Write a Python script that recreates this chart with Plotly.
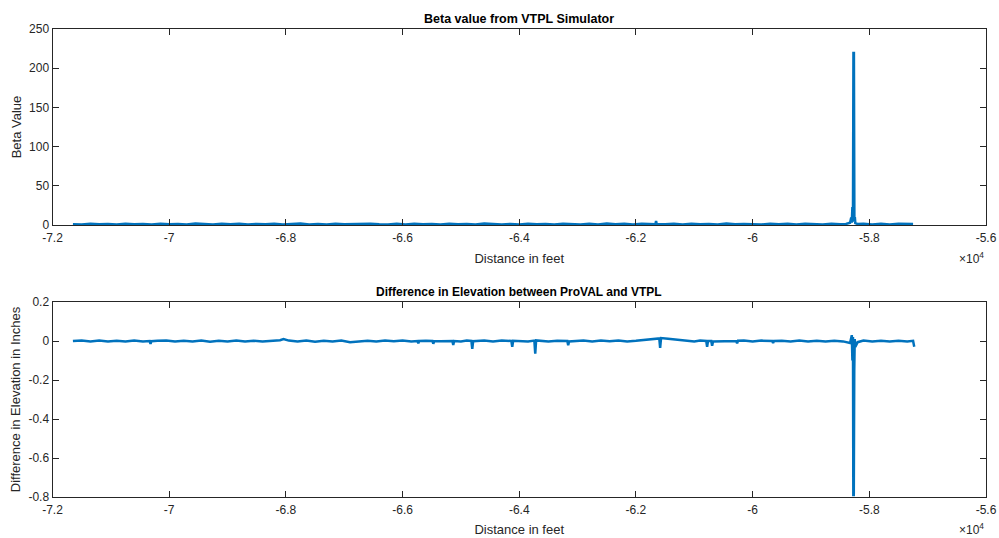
import plotly.graph_objects as go

# ---------------- data ----------------
beta_x = [-71650, -71500, -71350, -71200, -71050, -70900, -70750, -70600, -70450, -70300,
          -70150, -70000, -69850, -69700, -69550, -69400, -69250, -69100, -68950, -68800,
          -68650, -68500, -68350, -68200, -68050, -67900, -67750, -67600, -67450, -67300,
          -67150, -67000, -66850, -66700, -66550, -66400, -66250, -66100, -65950, -65800,
          -65650, -65500, -65350, -65200, -65050, -64900, -64750, -64600, -64450, -64300,
          -64150, -64000, -63850, -63700, -63550, -63400, -63250, -63100, -62950, -62800,
          -62650, -62500, -62350, -62200, -62050, -61900, -61750, -61665, -61655, -61645, -61500,
          -61350, -61200, -61050, -60900, -60750, -60600, -60450, -60300, -60150, -60000,
          -59850, -59700, -59550, -59400, -59250, -59100, -58950, -58800, -58650, -58500,
          -58400, -58330, -58310, -58300, -58290, -58280, -58272, -58264, -58256, -58248,
          -58240, -58200, -58100, -57950, -57800, -57650, -57500, -57350, -57250]
beta_y = [1.1, 0.6, 1.6, 0.8, 1.4, 0.5, 1.7, 0.9, 1.3, 0.6,
          1.6, 0.8, 1.2, 0.5, 1.8, 1.0, 0.6, 1.5, 0.8, 1.6,
          0.6, 1.4, 0.9, 1.5, 0.5, 1.2, 1.8, 0.7, 1.4, 0.6,
          1.6, 0.8, 1.1, 0.5, 1.7, 1.0, 0.7, 1.5, 0.6, 1.5,
          0.9, 1.3, 0.5, 1.6, 0.8, 1.4, 0.6, 1.8, 1.0, 0.6,
          1.4, 0.7, 1.6, 0.8, 1.2, 0.5, 1.5, 1.0, 0.6, 1.5,
          0.7, 1.8, 0.9, 1.5, 0.6, 1.7, 1.1, 1.0, 5.2, 1.2, 0.8,
          1.5, 0.6, 1.6, 0.9, 1.3, 0.5, 1.8, 0.8, 1.4, 1.0,
          0.6, 1.6, 0.8, 1.5, 0.6, 1.7, 1.1, 0.7, 1.5, 0.8,
          1.3, 2.8, 9.5, 3.0, 23.0, 11.0, 219.5, 219.5, 4.0, 10.0,
          2.5, 1.2, 1.6, 0.7, 1.5, 0.6, 1.7, 0.9, 1.2]

diff_x = [-71650, -71500, -71350, -71200, -71050, -70900, -70750, -70600, -70450, -70335,
          -70320, -70305, -70200, -70050, -69900, -69750, -69600, -69450, -69300, -69150,
          -69000, -68850, -68700, -68550, -68400, -68250, -68100, -68040, -67950, -67800,
          -67650, -67500, -67350, -67200, -67050, -66900, -66750, -66600, -66450, -66300,
          -66150, -66000, -65850, -65745, -65730, -65715, -65600, -65488, -65473, -65458,
          -65350, -65200, -65146, -65131, -65116, -65000, -64900, -64820, -64805, -64790,
          -64600, -64450, -64300, -64135, -64120, -64105, -64000, -63850, -63741, -63726,
          -63711, -63500, -63350, -63176, -63161, -63146, -62900, -62750, -62600, -62450,
          -62300, -62150, -62000, -61850, -61700, -61600, -61585, -61570, -61450, -61300,
          -61150, -61000, -60900, -60795, -60780, -60765, -60709, -60694, -60679, -60600,
          -60450, -60281, -60266, -60251, -60150, -60000, -59850, -59664, -59649, -59634,
          -59500, -59350, -59200, -59050, -58900, -58750, -58600, -58450, -58330, -58300,
          -58290, -58280, -58274, -58266, -58258, -58250, -58240, -58200, -58100, -57950,
          -57800, -57650, -57500, -57350, -57250, -57230]
diff_y = [0.000, 0.003, -0.002, 0.002, -0.003, 0.001, -0.002, 0.003, -0.002, 0.000,
          -0.015, -0.001, 0.001, 0.003, -0.003, 0.001, -0.002, 0.002, -0.004, 0.001,
          -0.002, 0.002, -0.003, 0.001, -0.002, 0.002, 0.004, 0.010, 0.002, -0.002,
          0.002, -0.004, 0.001, -0.002, 0.003, -0.006, -0.003, 0.001, -0.003, 0.002,
          -0.001, 0.003, -0.002, 0.000, -0.012, 0.000, 0.001, 0.000, -0.014, -0.001,
          -0.001, 0.002, 0.000, -0.020, 0.000, -0.002, 0.002, 0.000, -0.040, -0.001,
          0.002, -0.002, 0.003, 0.000, -0.030, 0.001, 0.001, -0.002, 0.002, -0.065,
          0.003, -0.002, 0.001, 0.000, -0.022, -0.002, 0.002, -0.003, 0.002, -0.001,
          0.003, -0.002, 0.001, 0.006, 0.010, 0.013, -0.035, 0.015, 0.012, 0.006,
          0.001, -0.003, 0.002, 0.000, -0.030, 0.000, 0.000, -0.025, -0.002, -0.002,
          0.001, 0.000, -0.012, 0.001, 0.002, -0.003, 0.002, 0.000, -0.010, 0.000,
          0.001, -0.002, 0.002, -0.003, 0.001, -0.002, 0.001, -0.002, -0.010, 0.030,
          -0.100, 0.020, -0.790, -0.790, -0.150, 0.010, -0.030, -0.006, 0.002, -0.003,
          0.001, -0.002, 0.001, -0.002, 0.001, -0.030]

assert len(beta_x) == len(beta_y)
assert len(diff_x) == len(diff_y)

x_tickvals = [-72000, -70000, -68000, -66000, -64000, -62000, -60000, -58000, -56000]
x_ticktext = ["-7.2", "-7", "-6.8", "-6.6", "-6.4", "-6.2", "-6", "-5.8", "-5.6"]
beta_ticks = [0, 50, 100, 150, 200, 250]
diff_ticks = [-0.8, -0.6, -0.4, -0.2, 0, 0.2]
diff_ticktext = ["-0.8", "-0.6", "-0.4", "-0.2", "0", "0.2"]

# ---------------- figure ----------------
W, H = 999, 538
LINE = "#0072BD"
AX = "#262626"
FONT = "Liberation Sans, Arial, sans-serif"

fig = go.Figure()
fig.add_trace(go.Scatter(x=beta_x, y=beta_y, mode="lines",
                         line=dict(color=LINE, width=2.5), xaxis="x", yaxis="y",
                         showlegend=False))
fig.add_trace(go.Scatter(x=diff_x, y=diff_y, mode="lines",
                         line=dict(color=LINE, width=2.5), xaxis="x2", yaxis="y2",
                         showlegend=False))

x0, x1 = 52.5 / W, 986 / W
top_dom = [1 - 225 / H, 1 - 29 / H]
bot_dom = [1 - 497 / H, 1 - 302 / H]

common = dict(showline=True, linecolor=AX, linewidth=1, mirror="ticks",
              ticks="inside", ticklen=6, tickcolor=AX, tickwidth=1,
              showgrid=False, zeroline=False, automargin=False,
              tickfont=dict(family=FONT, size=12, color=AX))

fig.update_layout(
    width=W, height=H, autosize=False,
    margin=dict(l=0, r=0, t=0, b=0, pad=0),
    paper_bgcolor="white", plot_bgcolor="white",
    font=dict(family=FONT, color=AX),
    xaxis=dict(domain=[x0, x1], anchor="y", range=[-72000, -56000],
               tickvals=x_tickvals, ticktext=x_ticktext, ticklabelstandoff=2,
               title=dict(text="Distance in feet", font=dict(size=13, color=AX), standoff=9),
               **common),
    yaxis=dict(domain=top_dom, anchor="x", range=[0, 250], tickvals=beta_ticks,
               title=dict(text="Beta Value", font=dict(size=13, color=AX), standoff=4),
               **common),
    xaxis2=dict(domain=[x0, x1], anchor="y2", range=[-72000, -56000],
                tickvals=x_tickvals, ticktext=x_ticktext, ticklabelstandoff=2,
                title=dict(text="Distance in feet", font=dict(size=13, color=AX), standoff=8),
                **common),
    yaxis2=dict(domain=bot_dom, anchor="x2", range=[-0.8, 0.2], tickvals=diff_ticks,
                ticktext=diff_ticktext,
                title=dict(text="Difference in Elevation in Inches", font=dict(size=13, color=AX), standoff=4),
                **common),
    annotations=[
        dict(text="<b>Beta value from VTPL Simulator</b>", x=(x0 + x1) / 2, y=1 - 19 / H,
             xref="paper", yref="paper", showarrow=False, xanchor="center", yanchor="middle",
             font=dict(size=12.5, color="#000000")),
        dict(text="<b>Difference in Elevation between ProVAL and VTPL</b>", x=(x0 + x1) / 2,
             y=1 - 292 / H, xref="paper", yref="paper", showarrow=False,
             xanchor="center", yanchor="middle", font=dict(size=12, color="#000000")),
        dict(text="×10<sup>4</sup>", x=x1, y=1 - 258 / H, xref="paper", yref="paper",
             showarrow=False, xanchor="right", yanchor="middle",
             font=dict(size=12, color=AX)),
        dict(text="×10<sup>4</sup>", x=x1, y=1 - 529 / H, xref="paper", yref="paper",
             showarrow=False, xanchor="right", yanchor="middle",
             font=dict(size=12, color=AX)),
    ],
)

fig.write_html("out.html")
